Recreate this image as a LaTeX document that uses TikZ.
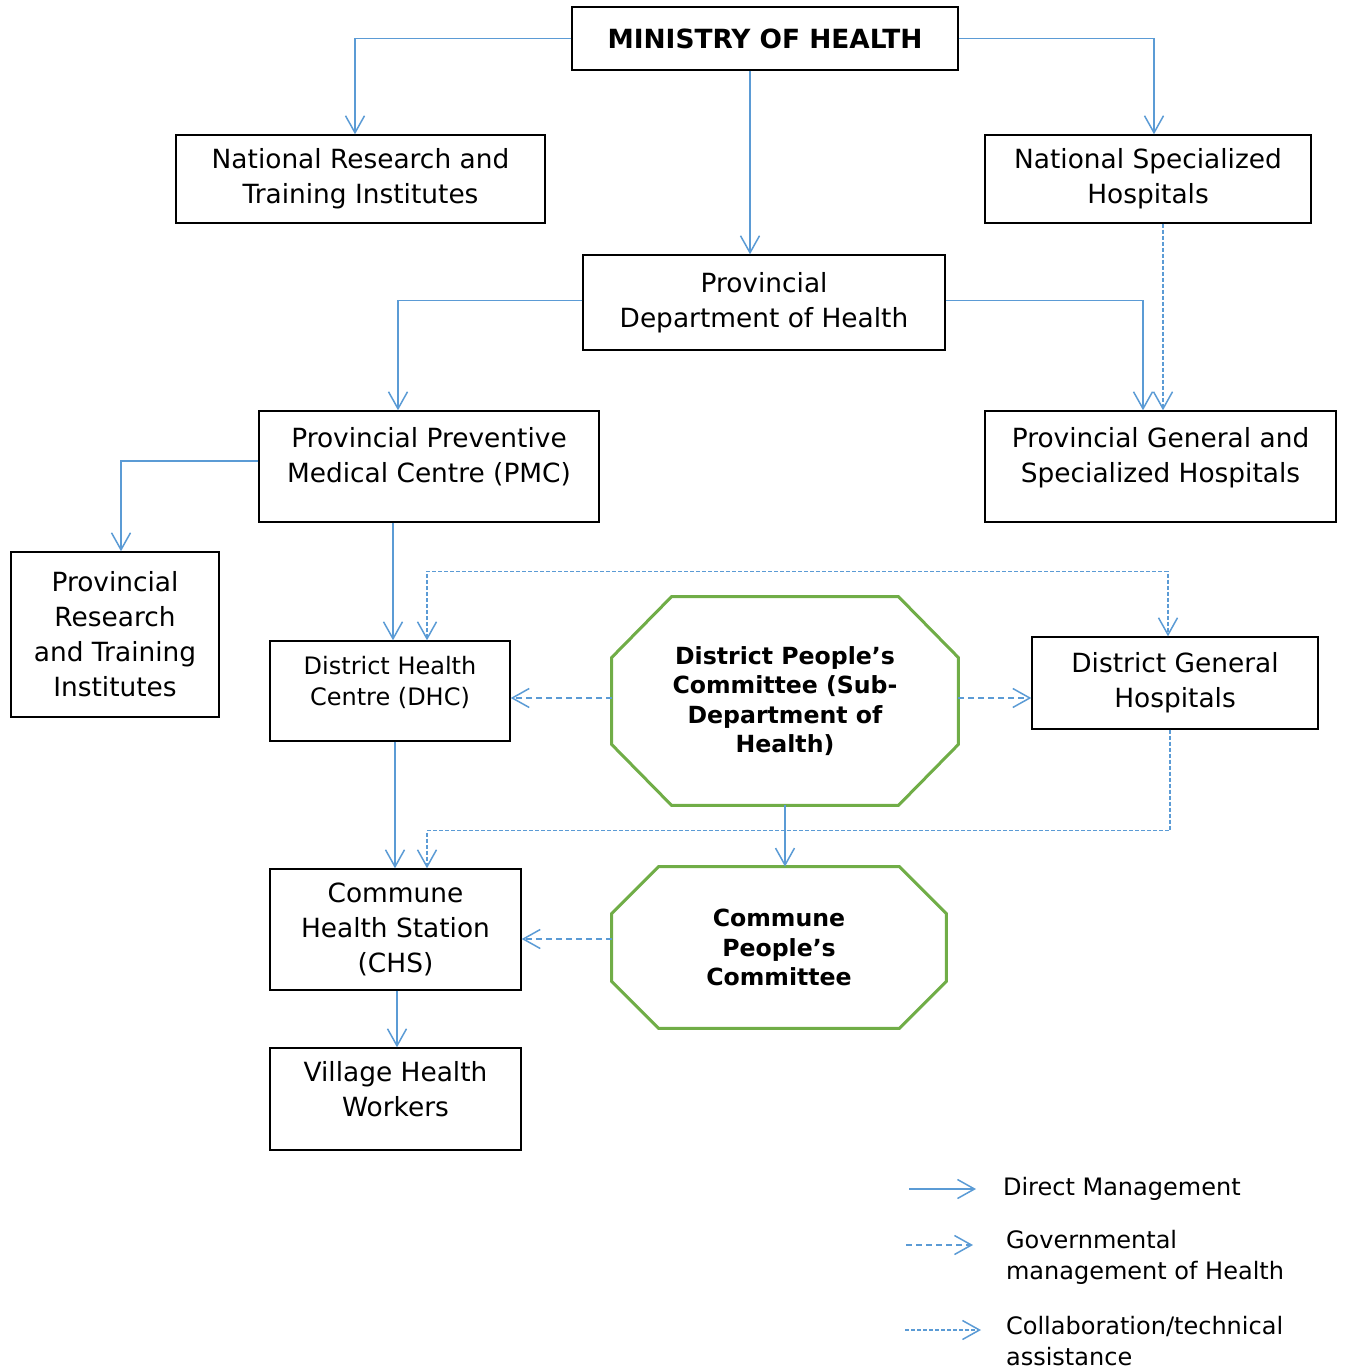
\documentclass[tikz,border=0pt]{standalone}
\usepackage{fontspec}
\setmainfont{DejaVu Sans}
\usetikzlibrary{arrows.meta,calc}
\definecolor{mgmtblue}{HTML}{5B9BD5}
\definecolor{pcgreen}{HTML}{70AD47}

\begin{document}
\begin{tikzpicture}[x=0.5pt,y=-0.5pt,
  >={Straight Barb[length=8.5pt,width=9.5pt]},
  unit/.style={draw,line width=0.7pt,inner sep=0pt,align=center,font=\fontsize{13.2}{17.5}\selectfont},
  smallunit/.style={unit,font=\fontsize{12}{15.5}\selectfont},
  committee/.style={inner sep=0pt,align=center,font=\bfseries\fontsize{11.8}{14.75}\selectfont},
  octline/.style={draw=pcgreen,line width=1.5pt},
  direct/.style={draw=mgmtblue,line width=0.75pt,->},
  govern/.style={direct,dash pattern=on 3pt off 2pt},
  collab/.style={direct,dash pattern=on 2pt off 1pt},
  legtext/.style={anchor=west,align=left,font=\fontsize{12}{15.5}\selectfont}]
            \useasboundingbox (0,0) rectangle (1348,1368);

            \node[unit,minimum width=193pt,minimum height=31.5pt,font=\bfseries\fontsize{13.2}{17.5}\selectfont] (moh) at (765,38.5) {MINISTRY OF HEALTH};
            \node[unit,minimum width=184.5pt,minimum height=44pt] (nrti) at (360.5,179) {National Research and\\Training Institutes};
            \node[unit,minimum width=163pt,minimum height=44pt] (nsh) at (1148,179) {National Specialized\\Hospitals};
            \node[unit,minimum width=181pt,minimum height=47.5pt] (pdh) at (764,302.5) {Provincial\\Department of Health};
            \node[unit,minimum width=170pt,minimum height=55.5pt,text depth=12pt] (ppmc) at (429,466.5) {Provincial Preventive\\Medical Centre (PMC)};
            \node[unit,minimum width=175.5pt,minimum height=55.5pt,text depth=12pt] (pgsh) at (1160.5,466.5) {Provincial General and\\Specialized Hospitals};
            \node[unit,minimum width=104pt,minimum height=82.5pt] (prti) at (115,634.5) {Provincial\\Research\\and Training\\Institutes};
            \node[smallunit,minimum width=120pt,minimum height=50pt,text depth=10pt] (dhc) at (390,691) {District Health\\Centre (DHC)};
            \node[committee,minimum width=173pt,minimum height=104pt] (dpc) at (785,701) {District People’s\\Committee (Sub-\\Department of\\Health)};
            \node[unit,minimum width=143pt,minimum height=46pt] (dgh) at (1175,683) {District General\\Hospitals};
            \node[unit,minimum width=125.5pt,minimum height=60.5pt] (chs) at (395.5,929.5) {Commune\\Health Station\\(CHS)};
            \node[committee,minimum width=167pt,minimum height=80.5pt] (cpc) at (779,947.5) {Commune\\People’s\\Committee};
            \node[unit,minimum width=125.5pt,minimum height=51pt,text depth=10pt] (vhw) at (395.5,1099) {Village Health\\Workers};

            \draw[octline] ($(dpc.north west)+(60,0)$) -- ($(dpc.north east)+(-60,0)$) -- ($(dpc.north east)+(0,61)$) -- ($(dpc.south east)+(0,-61)$) -- ($(dpc.south east)+(-60,0)$) -- ($(dpc.south west)+(60,0)$) -- ($(dpc.south west)+(0,-61)$) -- ($(dpc.north west)+(0,61)$) -- cycle;
            \draw[octline] ($(cpc.north west)+(47,0)$) -- ($(cpc.north east)+(-47,0)$) -- ($(cpc.north east)+(0,47)$) -- ($(cpc.south east)+(0,-47)$) -- ($(cpc.south east)+(-47,0)$) -- ($(cpc.south west)+(47,0)$) -- ($(cpc.south west)+(0,-47)$) -- ($(cpc.north west)+(0,47)$) -- cycle;

            \draw[direct] (moh.west) -| ([xshift=-2.75pt]nrti.north);
            \draw[direct] (moh.east) -| ([xshift=3pt]nsh.north);
            \draw[direct] ([xshift=-7.5pt]moh.south) -- ([xshift=-7.5pt]moh.south |- pdh.north);
            \draw[direct] ([yshift=1pt]pdh.west) -| ([xshift=-15.5pt]ppmc.north);
            \draw[direct] ([yshift=1pt]pdh.east) -| ([xshift=-8.75pt]pgsh.north);
            \draw[collab] ([xshift=7.5pt]nsh.south) -- ([xshift=7.5pt]nsh.south |- pgsh.north);
            \draw[direct] ([yshift=2.75pt]ppmc.west) -| ([xshift=3pt]prti.north);
            \draw[direct] ([xshift=-18pt]ppmc.south) -- ([xshift=-18pt]ppmc.south |- dhc.north);
            \draw[collab,<->] ([xshift=18.5pt]dhc.north) -- ++(0,-69) -| ([xshift=-3.5pt]dgh.north);
            \draw[govern] ([yshift=1.5pt]dpc.west) -- ([yshift=1.5pt]dpc.west -| dhc.east);
            \draw[govern] ([yshift=1.5pt]dpc.east) -- ([yshift=1.5pt]dpc.east -| dgh.west);
            \draw[direct] ([xshift=2.5pt]dhc.south) -- ([xshift=2.5pt]dhc.south |- chs.north);
            \draw[collab] ([xshift=-2.5pt]dgh.south) -- ++(0,101) -| ([xshift=15.75pt]chs.north);
            \draw[direct] (dpc.south) -- (dpc.south |- cpc.north);
            \draw[govern] ([yshift=4.25pt]cpc.west) -- ([yshift=4.25pt]cpc.west -| chs.east);
            \draw[direct] ([xshift=0.75pt]chs.south) -- ([xshift=0.75pt]chs.south |- vhw.north);

            \coordinate (dmfrom) at (909,1189);
            \coordinate (dmto) at (976,1189);
            \coordinate (gmfrom) at (906,1245);
            \coordinate (gmto) at (973,1245);
            \coordinate (ctfrom) at (905,1330);
            \coordinate (ctto) at (981,1330);
            \draw[direct] (dmfrom) -- (dmto);
            \draw[govern] (gmfrom) -- (gmto);
            \draw[collab] (ctfrom) -- (ctto);
            \node[legtext] (dmtext) at (996,1189) {Direct Management};
            \node[legtext] (gmtext) at (999,1257.5) {Governmental\\management of Health};
            \node[legtext] (cttext) at (999,1341) {Collaboration/technical\\assistance};
\end{tikzpicture}
\end{document}
